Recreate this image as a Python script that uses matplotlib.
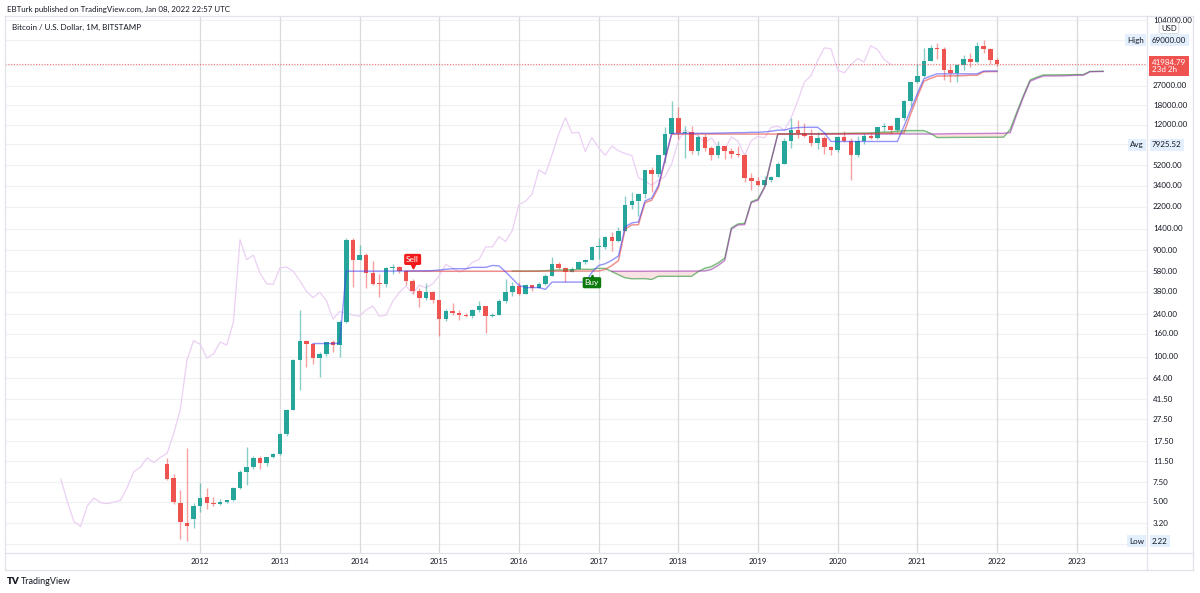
import numpy as np
import matplotlib
matplotlib.use("Agg")
import matplotlib.pyplot as plt
import matplotlib.transforms as mtransforms
from matplotlib.lines import Line2D

plt.rcParams["font.family"] = ["Lato", "DejaVu Sans"]

# BITSTAMP BTCUSD monthly bars, Aug 2011 .. Jan 2022 (bar 0 = Aug 2011)
opens = [11.0, 8.2, 4.9, 3.2, 3.5,
         4.6, 5.5, 4.9, 4.8, 4.95, 5.15, 6.7, 9.3, 10.2, 12.4, 11.2, 12.5,
         13.5, 20.4, 33.4, 93, 139, 129, 97, 106, 135, 127, 204, 1120,
         740, 815, 560, 450, 445, 625, 635, 585, 480, 385, 338, 378,
         320, 217, 254, 244, 236, 230, 263, 284, 230, 236, 313, 377,
         430, 368, 437, 415, 448, 531, 673, 624, 573, 608, 701, 742,
         963, 965, 1190, 1080, 1350, 2300, 2480, 2870, 4730, 4340, 6470, 9950,
         13850, 10100, 10300, 6920, 9240, 7490, 6390, 7730, 7020, 6630, 6370, 4040,
         3740, 3450, 3810, 4100, 5320, 8550, 10820, 10080, 9600, 8290, 9150, 7550,
         7190, 9350, 8540, 6410, 8630, 9450, 9140, 11350, 11660, 10780, 13800, 19700,
         28990, 33110, 45240, 58800, 57700, 37300, 35040, 41460, 47100, 43820, 61300, 57000,
         46200]
highs = [12.3, 8.9, 6.4, 15.0, 4.9,
         7.4, 6.6, 5.5, 5.3, 5.2, 6.8, 9.6, 15.4, 12.9, 12.9, 12.7, 13.8,
         20.6, 33.8, 95, 260, 141, 130, 110, 136, 140, 215, 1163, 1150,
         1000, 850, 720, 550, 630, 680, 650, 600, 500, 415, 460, 385,
         322, 265, 300, 260, 248, 267, 318, 285, 245, 330, 500, 470,
         465, 448, 440, 470, 552, 780, 705, 630, 630, 720, 755, 980,
         1150, 1200, 1300, 1440, 2760, 3000, 2950, 4750, 4980, 6470, 11400, 19666,
         17200, 11780, 11700, 9760, 10000, 7780, 8500, 7760, 7400, 7680, 6600, 4400,
         4110, 4200, 4140, 5600, 9070, 13880, 13200, 12330, 10950, 10350, 9500, 7750,
         9580, 10500, 9190, 9470, 10070, 10380, 11460, 12470, 12070, 14100, 19900, 29300,
         41950, 58350, 61780, 64900, 59500, 41300, 42400, 50500, 52900, 67000, 69000, 59100,
         47900]
lows = [7.9, 4.8, 2.3, 2.22, 2.9,
        4.0, 4.3, 4.6, 4.7, 4.9, 5.1, 6.5, 7.1, 9.9, 9.8, 10.5, 12.4,
        13.2, 19.5, 33, 50, 80, 85, 65, 102, 110, 100, 200, 420,
        730, 410, 440, 340, 420, 555, 565, 440, 365, 280, 320, 300,
        152, 210, 235, 214, 225, 220, 253, 162, 225, 235, 300, 350,
        355, 365, 390, 412, 436, 530, 610, 470, 570, 605, 680, 740,
        750, 915, 890, 1060, 1350, 2100, 1830, 2660, 2980, 4110, 5500, 10400,
        9000, 6000, 6600, 6430, 7040, 5780, 6070, 5880, 6100, 6200, 3650, 3120,
        3400, 3380, 3700, 4090, 5320, 7460, 9100, 9320, 7730, 7300, 6520, 6430,
        6850, 8450, 3850, 6150, 8110, 8930, 8970, 10540, 9880, 10400, 13200, 17600,
        28150, 32300, 45000, 47000, 30000, 28800, 29300, 37300, 39600, 43300, 53300, 42000,
        40600]
closes = [8.0, 5.0, 3.3, 3.0, 4.6,
          5.4, 4.9, 4.8, 4.95, 5.15, 6.7, 9.3, 10.2, 12.4, 11.2, 12.5, 13.5,
          20.4, 33.4, 93, 139, 129, 97, 106, 135, 127, 204, 1120, 740,
          815, 560, 450, 445, 625, 635, 585, 480, 385, 338, 378, 320,
          217, 254, 244, 236, 230, 263, 284, 230, 236, 313, 377, 430,
          368, 437, 415, 448, 531, 673, 624, 573, 608, 701, 742, 963,
          965, 1190, 1080, 1350, 2300, 2480, 2870, 4730, 4340, 6470, 9950, 13850,
          10100, 10300, 6920, 9240, 7490, 6390, 7730, 7020, 6630, 6370, 4040, 3740,
          3450, 3810, 4100, 5320, 8550, 10820, 10080, 9600, 8290, 9150, 7550, 7190,
          9350, 8540, 6410, 8630, 9450, 9140, 11350, 11660, 10780, 13800, 19700, 28990,
          33110, 45240, 58800, 57700, 37300, 35040, 41460, 47100, 43820, 61300, 57000, 46200,
          41984.79]

# Ichimoku lines
conv_start = 22   # conversion line (blue), first bar
conv_line = [131, 131, 131, 131, 132, 584, 584, 584, 584, 584, 584,
             585, 585, 586, 586, 587, 588, 588, 591, 598, 607, 614, 614, 614,
             632, 632, 632, 657, 651, 576, 501, 436, 416, 416, 416, 401,
             466, 466, 466, 466, 466, 466,
             571, 656, 681, 731, 801, 1461, 1581, 1613, 2492, 2640, 3410, 5878,
             10015, 10028, 10039, 10051, 10068, 10068, 10068, 10118, 10135, 10173,
             10203, 10208, 10278, 10278, 10363, 10508, 10748, 10748, 11163, 11323,
             11393, 11393, 11393, 10160,
             8500, 8500, 8500, 8500, 8500, 8500, 8500, 8500, 8500, 8500, 8500,
             11640, 16340, 22825, 31025, 32815,
             34375, 34375, 34375, 34375, 34375, 34375, 34375,
             36425, 36425, 36425]
base_start = 36   # base line (red)
base_line = [583, 583, 583, 583, 583, 583, 583, 583, 583, 583, 583, 583, 583, 583, 583,
             583, 583, 583, 583, 583, 583, 584, 584, 584, 584, 584, 585, 585, 586, 586,
             605, 656, 727, 1390, 1517, 1525, 2408, 2523, 3268, 5733, 9883, 9883,
             9909, 9909, 9909, 9909, 9909, 9909, 9909, 9909, 9909, 9909, 9909, 9909,
             9909, 9909, 9909,
             9914, 9914, 9914, 9914, 9914, 9914, 9914,
             9945, 9950, 9983, 10008, 10010, 10015, 10028, 10039, 10051, 10068, 10068,
             10185, 14935, 21278, 29515, 31260, 32825, 32895, 32895, 32980, 33125,
             33365, 33365, 35830, 35990, 36060]
span_a_start = 52  # leading span A, plotted position of first value
span_a = [585, 585, 585, 586, 587, 590, 595, 598, 598, 598, 607, 607, 607, 620, 617,
          579, 542, 509, 499, 500, 500, 492, 525, 525, 525, 525, 525, 525,
          578, 621, 643, 693, 764, 1425, 1549, 1569, 2450, 2581, 3339, 5805,
          9949, 9955, 9974, 9980, 9988, 9988, 9988, 10013, 10022, 10041, 10056, 10058,
          10093, 10093, 10136, 10209, 10328, 10331, 10538, 10618, 10653, 10653, 10653,
          10037, 9222, 9225, 9241, 9254, 9255, 9257, 9264, 9269, 9275, 9284, 9284,
          10912, 15637, 22052, 30270, 32037, 33600, 33635, 33635, 33677, 33750,
          33870, 33870, 36128, 36208, 36243]
span_b_start = 67  # leading span B
span_b = [583, 583, 583, 583, 583, 583, 584, 584, 584, 584, 584, 585, 585, 586, 586,
          605, 656, 727, 1390, 1517, 1525, 2408, 2523, 3268, 5733, 9883, 9883,
          9909, 9909, 9909, 9909, 9909, 9909, 9909, 9909, 9909, 9909, 9909, 9909,
          9909, 9909, 9909,
          9914, 9914, 9914, 9914, 9914, 9914, 9914,
          9945, 9950, 9983, 10008, 10010, 10015, 10028, 10039, 10051, 10068, 10068,
          10185, 14935, 21278, 29515, 31260, 32825, 32895, 32895, 32980, 33125,
          33365, 33365, 35830, 35990, 36060]
lag_shift = 16

years = [2012, 2013, 2014, 2015, 2016, 2017, 2018, 2019, 2020, 2021, 2022, 2023]
price_ticks = [27000, 18000, 12000, 5200, 3400, 2200, 1400, 900, 580, 380, 240,
               160, 100, 64, 41.5, 27.5, 17.5, 11.5, 7.5, 5.0, 3.2]
hidden_grid = [104000, 69000, 41500, 8000, 2.1]
last_price, hi_price, avg_price, lo_price = 41984.79, 69000.00, 7925.52, 2.22
sell_bar, buy_bar = 37, 64

UP, DOWN = "#26a69a", "#ef5350"
TXT = "#131722"
W, H = 1200, 593

fig = plt.figure(figsize=(W / 100, H / 100), dpi=100)
ax = fig.add_axes([5 / W, 1 - 553 / H, 1142 / W, 537 / H])
ax.set_yscale("log")
ax.set_xlim(-24.4, 147.6)
ax.set_ylim(1.733, 113450)
for s in ax.spines.values():
    s.set_visible(False)
ax.tick_params(which="both", left=False, bottom=False, labelleft=False, labelbottom=False)

# grid
for v in price_ticks + hidden_grid:
    ax.axhline(v, color="#f0f1f4", lw=0.9, zorder=0)
jan_bars = [(y - 2011) * 12 - 7 for y in years]
for xb in jan_bars:
    ax.axvline(xb, color="#dadada", lw=0.9, zorder=0)

# cloud fill
pa = np.arange(span_a_start, span_a_start + len(span_a))
pb = np.arange(span_b_start, span_b_start + len(span_b))
a_on_b = np.array(span_a[span_b_start - span_a_start:], float)
b_arr = np.array(span_b, float)
ax.fill_between(pb, a_on_b, b_arr, where=b_arr >= a_on_b, interpolate=True,
                color="#f7c9cc", alpha=0.55, lw=0, zorder=1)
ax.fill_between(pb, a_on_b, b_arr, where=b_arr < a_on_b, interpolate=True,
                color="#c8e6c9", alpha=0.55, lw=0, zorder=1)

# lagging span
idx = np.arange(len(closes))
ax.plot(idx - lag_shift, closes, color="#ebd0f3", lw=0.9, zorder=2)

# candles
o, h, l, c = (np.array(a, float) for a in (opens, highs, lows, closes))
up = c >= o
body_lo = np.minimum(o, c)
body_hi = np.maximum(np.maximum(o, c), body_lo * 1.02)
for mask, col in ((up, UP), (~up, DOWN)):
    ax.vlines(idx[mask], l[mask], h[mask], color=col, lw=1.0, alpha=0.55, zorder=3)
    ax.bar(idx[mask], body_hi[mask] - body_lo[mask], bottom=body_lo[mask], width=0.68,
           color=col, lw=0, zorder=3)

# ichimoku lines
ax.plot(pa, span_a, color="#3c9a3c", lw=1.0, alpha=0.65, zorder=4)
ax.plot(pb, span_b, color="#9c27b0", lw=1.0, alpha=0.55, zorder=4)
ax.plot(np.arange(base_start, base_start + len(base_line)), base_line,
        color="#e53935", lw=1.1, alpha=0.55, zorder=5)
ax.plot(np.arange(conv_start, conv_start + len(conv_line)), conv_line,
        color="#3d3df5", lw=1.0, alpha=0.55, zorder=5)

# last price dotted line
ax.axhline(last_price, color=DOWN, lw=0.8, ls=(0, (1, 1.5)), alpha=0.8, zorder=4)

# Sell / Buy signals
sell_y = base_line[sell_bar - base_start]
ax.annotate("Sell", xy=(sell_bar, sell_y), xytext=(0, 6), textcoords="offset points",
            ha="center", va="bottom", fontsize=6, color="white", zorder=8,
            bbox=dict(boxstyle="round,pad=0.25,rounding_size=0.2", fc="#f21b1b", ec="none"))
ax.plot(sell_bar, sell_y, marker="v", ms=3.5, color="#f21b1b", zorder=8,
        transform=ax.transData + mtransforms.ScaledTranslation(0, 4 / 72, fig.dpi_scale_trans))
buy_y = conv_line[buy_bar - conv_start]
ax.annotate("Buy", xy=(buy_bar, buy_y), xytext=(0, -5), textcoords="offset points",
            ha="center", va="top", fontsize=6, color="white", zorder=8,
            bbox=dict(boxstyle="round,pad=0.25,rounding_size=0.2", fc="#0d7a0d", ec="none"))
ax.plot(buy_bar, buy_y, marker="^", ms=3.5, color="#0d7a0d", zorder=8,
        transform=ax.transData + mtransforms.ScaledTranslation(0, -3.5 / 72, fig.dpi_scale_trans))

# right price scale
tr = mtransforms.blended_transform_factory(fig.transFigure, ax.transData)
for v in price_ticks:
    ax.text(1153 / W, v, f"{v:.2f}", transform=tr, ha="left", va="center",
            fontsize=5.8, color=TXT, clip_on=False)
ax.text(1153 / W, 104000, "104000.00", transform=tr, ha="left", va="center",
        fontsize=5.8, color=TXT, clip_on=False)
ax.text(1169 / W, 88500, "USD", transform=tr, ha="center", va="center", fontsize=5.6,
        color=TXT, clip_on=False,
        bbox=dict(boxstyle="round,pad=0.25", fc="white", ec="#d1d4dc", lw=0.6))


def tag(xpx, v, text, ha="left"):
    ax.text(xpx / W, v, text, transform=tr, ha=ha, va="center", fontsize=5.8, color=TXT,
            clip_on=False, zorder=10,
            bbox=dict(boxstyle="square,pad=0.3", fc="#e3effd", ec="none"))


tag(1144, hi_price, "High", ha="right")
tag(1152, hi_price, f"{hi_price:.2f}")
tag(1144, avg_price, "Avg", ha="right")
tag(1152, avg_price, f"{avg_price:.2f}")
tag(1144, lo_price, "Low", ha="right")
tag(1152, lo_price, f"{lo_price:.2f}")
ax.annotate(f"{last_price:.2f}\n23d 2h", xy=(1152 / W, last_price), xycoords=tr,
            xytext=(0, 4), textcoords="offset points", ha="left", va="top",
            fontsize=5.8, color="white", linespacing=1.05, zorder=10, annotation_clip=False,
            bbox=dict(boxstyle="square,pad=0.35", fc="#ef5350", ec="none"))

# time axis labels
trx = mtransforms.blended_transform_factory(ax.transData, fig.transFigure)
for y, xb in zip(years, jan_bars):
    ax.text(xb, 1 - 561 / H, str(y), transform=trx, ha="center", va="center",
            fontsize=5.8, color=TXT, clip_on=False)

# frame
frame = "#e0e3eb"
for (x0, y0, x1, y1) in [(5, 16, 1193, 16), (5, 570, 1193, 570), (5, 16, 5, 570),
                         (1193, 16, 1193, 570), (1147, 16, 1147, 570), (5, 553, 1193, 553)]:
    fig.add_artist(Line2D([x0 / W, x1 / W], [1 - y0 / H, 1 - y1 / H], color=frame, lw=0.9,
                          transform=fig.transFigure))

fig.text(7 / W, 1 - 9 / H, "EBTurk published on TradingView.com, Jan 08, 2022 22:57 UTC",
         fontsize=5.7, color=TXT, va="center")
fig.text(12 / W, 1 - 27 / H, "Bitcoin / U.S. Dollar, 1M, BITSTAMP", fontsize=5.8,
         color=TXT, va="center")
fig.text(7 / W, 1 - 581 / H, "TV", fontsize=7, fontweight="heavy", color=TXT, va="center")
fig.text(21 / W, 1 - 581 / H, "TradingView", fontsize=6.5, color=TXT, va="center")

fig.savefig("out.png", dpi=100)
